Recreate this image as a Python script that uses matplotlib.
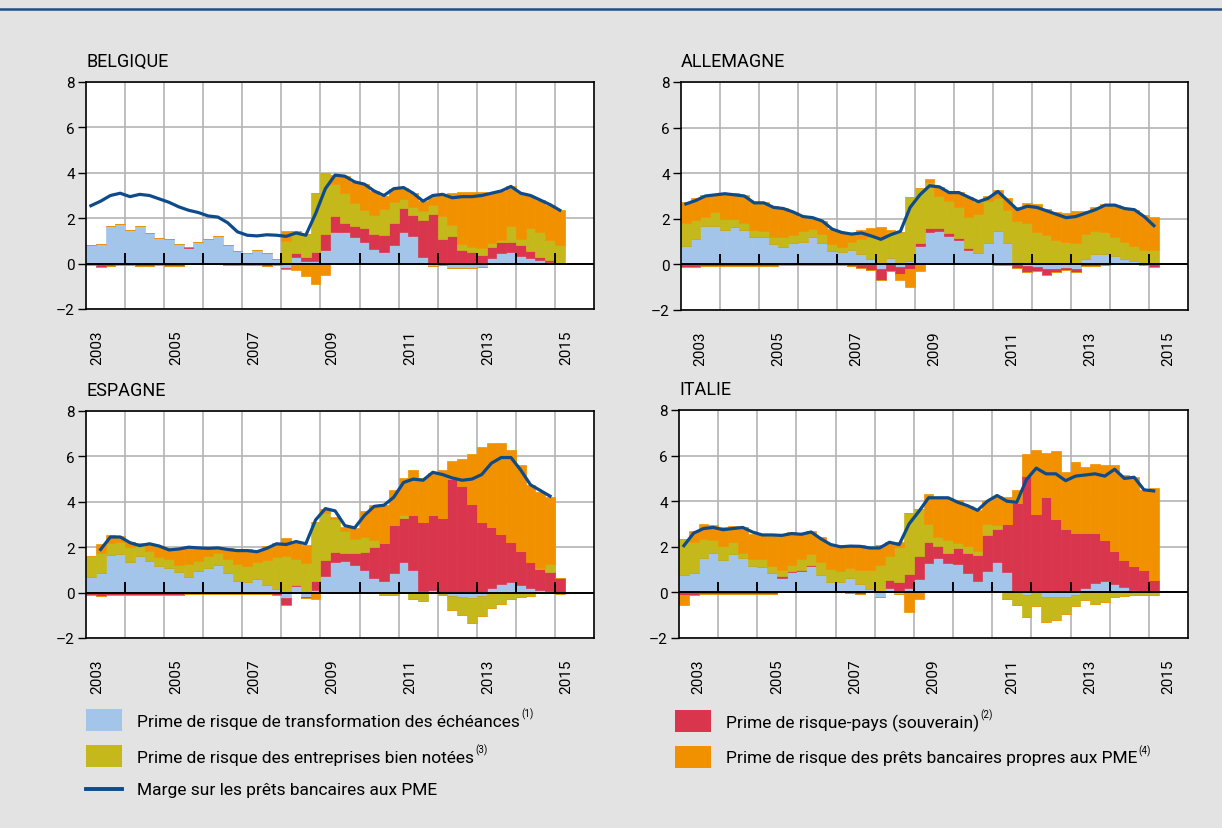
"""
Décomposition de la marge sur les prêts bancaires aux PME (quatre pays), données trimestrielles.
"""
import matplotlib
matplotlib.use("Agg")
import matplotlib.pyplot as plt
import numpy as np
from matplotlib.patches import Rectangle

plt.rcParams['font.family'] = ['Roboto', 'DejaVu Sans']

# premier trimestre 2003 -> premier trimestre 2015
START_YEAR = 2003
N_Q = 49

# ---- BELGIQUE ----
be_mat = [0.80, 0.85, 1.65, 1.75, 1.50, 1.65, 1.35, 1.12, 1.10, 0.85, 0.70, 0.95,
          1.10, 1.20, 0.80, 0.55, 0.45, 0.62, 0.45, 0.20, -0.20, 0.30, 0.10, 0.10,
          0.60, 1.40, 1.40, 1.15, 0.95, 0.65, 0.50, 0.80, 1.40, 1.20, 0.30, -0.10,
          -0.05, -0.20, -0.20, -0.20, -0.15, 0.25, 0.45, 0.50, 0.35, 0.25, 0.15, 0.08,
          0.00]
be_sov = [-0.05, -0.15, -0.10, -0.05, -0.05, -0.10, -0.10, -0.05, -0.10, -0.10, 0.05, -0.02,
          0.00, -0.03, -0.05, -0.05, -0.05, -0.05, -0.10, -0.08, -0.05, 0.15, 0.20, 0.40,
          0.70, 0.70, 0.40, 0.50, 0.60, 0.65, 0.75, 1.00, 1.05, 0.95, 1.60, 2.20,
          1.10, 1.20, 0.60, 0.50, 0.40, 0.50, 0.50, 0.45, 0.45, 0.30, 0.15, 0.10,
          0.02]
be_corp = [0.0] * 20 + [
          1.00, 1.00, 1.00, 2.60, 2.70, 1.40, 1.30, 1.00, 0.80, 0.85, 1.15, 0.90,
          0.40, 0.35, 0.40, 0.40, 1.00, 0.50, 0.25, 0.25, 0.30, 0.15, 0.10, 0.70,
          0.30, 1.00, 1.10, 0.87, 0.78]
be_sme = [0.0] * 20 + [
          0.45, -0.30, -0.55, -0.90, -0.50, 0.40, 0.75, 0.95, 1.15, 1.05, 0.60, 0.60,
          0.50, 0.60, 0.45, 0.40, 0.95, 1.40, 2.30, 2.40, 2.45, 2.20, 2.15, 1.75,
          2.00, 1.45, 1.40, 1.55, 1.55]
be_line = [2.55, 2.75, 3.00, 3.10, 2.95, 3.05, 3.00, 2.85, 2.70, 2.50, 2.35, 2.25,
           2.10, 2.05, 1.80, 1.40, 1.25, 1.22, 1.27, 1.25, 1.20, 1.35, 1.25, 2.20,
           3.30, 3.90, 3.85, 3.60, 3.50, 3.20, 3.00, 3.30, 3.35, 3.10, 2.75, 3.00,
           3.05, 2.90, 2.95, 2.95, 3.00, 3.10, 3.20, 3.40, 3.10, 3.00, 2.80, 2.60,
           2.35]

# ---- ALLEMAGNE ----
de_mat = [0.80, 1.10, 1.70, 1.70, 1.50, 1.65, 1.50, 1.20, 1.20, 0.90, 0.75, 0.95,
          1.00, 1.20, 0.95, 0.60, 0.55, 0.65, 0.45, 0.25, -0.20, 0.30, -0.10, 0.15,
          0.80, 1.40, 1.45, 1.25, 1.05, 0.65, 0.50, 0.95, 1.45, 0.95, 0.10, -0.05,
          -0.10, -0.20, -0.20, -0.15, -0.20, 0.25, 0.45, 0.45, 0.35, 0.25, 0.15, 0.08,
          0.02]
de_sov = [-0.10, -0.10, -0.05, -0.05, -0.05, -0.08, -0.05, -0.05, -0.05, -0.05, -0.03, -0.02,
          -0.02, -0.02, -0.02, -0.02, -0.02, -0.05, -0.15, -0.25, -0.50, -0.30, -0.30, -0.20,
          0.15, 0.20, 0.15, 0.12, 0.12, 0.05, 0.00, 0.00, -0.02, -0.02, -0.15, -0.30,
          -0.20, -0.25, -0.15, -0.10, -0.15, -0.05, -0.05, -0.02, 0.00, 0.00, 0.00, -0.03,
          -0.10]
de_corp = [1.00, 0.85, 0.40, 0.60, 0.50, 0.35, 0.30, 0.30, 0.25, 0.30, 0.45, 0.35,
           0.45, 0.35, 0.40, 0.30, 0.20, 0.35, 0.65, 0.95, 1.20, 1.10, 1.40, 2.80,
           2.40, 2.00, 1.40, 1.40, 1.35, 1.40, 1.70, 1.85, 1.45, 1.45, 1.80, 1.80,
           1.40, 1.30, 1.05, 1.00, 0.95, 1.10, 1.00, 0.95, 0.85, 0.75, 0.65, 0.57,
           0.60]
de_sme = [0.95, 0.95, 0.95, 0.80, 1.15, 1.13, 1.25, 1.25, 1.30, 1.35, 1.27, 1.00,
          0.65, 0.50, 0.55, 0.65, 0.65, 0.38, 0.43, 0.40, 0.45, 0.10, -0.30, -0.80,
          -0.30, 0.15, 0.40, 0.40, 0.65, 0.85, 0.55, 0.20, 0.35, 0.50, 0.60, 0.90,
          1.25, 1.15, 1.25, 1.25, 1.40, 1.00, 1.05, 1.25, 1.40, 1.45, 1.60, 1.50,
          1.45]
de_line = [2.65, 2.80, 3.00, 3.05, 3.10, 3.05, 3.00, 2.70, 2.70, 2.50, 2.45, 2.30,
           2.10, 2.05, 1.90, 1.55, 1.40, 1.33, 1.38, 1.25, 1.10, 1.30, 1.45, 2.50,
           3.05, 3.45, 3.40, 3.15, 3.15, 2.95, 2.75, 2.90, 3.20, 2.80, 2.40, 2.55,
           2.50, 2.35, 2.20, 2.05, 2.10, 2.25, 2.40, 2.60, 2.60, 2.45, 2.40, 2.10,
           1.70]

# ---- ESPAGNE ----
es_mat = [0.70, 0.85, 1.65, 1.70, 1.35, 1.60, 1.40, 1.15, 1.10, 0.90, 0.70, 0.95,
          1.10, 1.20, 0.85, 0.50, 0.45, 0.60, 0.35, 0.15, -0.25, 0.30, -0.20, 0.10,
          0.75, 1.35, 1.40, 1.20, 1.00, 0.65, 0.50, 0.85, 1.35, 1.00, 0.05, 0.10,
          -0.05, -0.15, -0.20, -0.25, -0.15, 0.20, 0.40, 0.45, 0.35, 0.20, 0.10, 0.05,
          0.00]
es_sov = [-0.10, -0.15, -0.10, -0.10, -0.10, -0.10, -0.10, -0.10, -0.10, -0.10, -0.08, -0.05,
          -0.05, -0.08, -0.05, -0.05, -0.05, -0.08, -0.08, -0.10, -0.30, 0.05, -0.05, 0.40,
          0.70, 0.45, 0.35, 0.55, 0.80, 1.35, 1.70, 2.15, 1.95, 2.40, 3.05, 3.30,
          3.30, 5.00, 4.70, 3.90, 3.10, 2.70, 2.20, 1.80, 1.50, 1.15, 0.95, 0.87,
          0.65]
es_corp = [0.90, 0.90, 0.55, 0.55, 0.65, 0.50, 0.45, 0.40, 0.40, 0.30, 0.55, 0.45,
           0.50, 0.55, 0.65, 0.75, 0.70, 0.75, 1.10, 1.40, 1.60, 1.15, 1.30, 2.60,
           2.05, 1.45, 0.95, 0.60, 0.65, 0.30, -0.10, -0.10, 0.10, -0.30, -0.35, 0.00,
           -0.05, -0.60, -0.80, -1.10, -0.90, -0.70, -0.50, -0.30, -0.20, -0.15, 0.05, 0.35,
           -0.05]
es_sme = [0.00, 0.40, 0.35, 0.25, 0.25, 0.10, 0.30, 0.50, 0.45, 0.75, 0.75, 0.60,
          0.40, 0.25, 0.45, 0.65, 0.75, 0.50, 0.60, 0.65, 0.80, 0.75, 0.80, -0.30,
          0.20, 0.10, 0.20, 0.50, 1.15, 1.55, 1.65, 1.50, 1.65, 2.00, 1.95, 1.85,
          2.10, 0.80, 1.20, 2.20, 3.30, 3.70, 4.00, 4.05, 3.75, 3.40, 3.35, 2.95,
          0.00]
es_line = [np.nan, 1.90, 2.45, 2.45, 2.20, 2.07, 2.15, 2.05, 1.88, 1.92, 2.00, 1.97,
           1.95, 1.97, 1.90, 1.85, 1.85, 1.80, 1.95, 2.15, 2.12, 2.25, 2.15, 3.20,
           3.70, 3.60, 2.95, 2.85, 3.40, 3.80, 3.85, 4.20, 4.85, 5.00, 4.95, 5.30,
           5.20, 5.05, 4.95, 5.00, 5.20, 5.70, 5.95, 5.95, 5.40, 4.75, 4.50, 4.25,
           np.nan]

# ---- ITALIE ----
it_mat = [0.75, 0.85, 1.50, 1.75, 1.40, 1.70, 1.50, 1.15, 1.10, 0.85, 0.65, 0.90,
          0.95, 1.15, 0.75, 0.45, 0.45, 0.65, 0.35, 0.15, -0.20, 0.20, -0.05, 0.20,
          0.60, 1.30, 1.50, 1.30, 1.25, 0.85, 0.50, 0.95, 1.35, 0.90, 0.05, -0.10,
          0.05, -0.20, -0.20, -0.20, -0.10, 0.20, 0.40, 0.50, 0.35, 0.25, 0.10, 0.05,
          0.00]
it_sov = [-0.10, -0.10, -0.08, -0.08, -0.05, -0.05, -0.05, -0.05, -0.05, -0.05, 0.05, 0.03,
          0.05, 0.05, 0.03, 0.02, 0.02, -0.03, -0.05, 0.00, 0.00, 0.35, 0.45, 0.60,
          1.00, 0.90, 0.55, 0.45, 0.70, 0.90, 1.15, 1.55, 1.45, 2.10, 3.85, 5.10,
          3.40, 4.20, 3.20, 2.80, 2.60, 2.40, 2.20, 1.80, 1.45, 1.15, 1.05, 0.95,
          0.55]
it_corp = [1.60, 1.35, 0.85, 0.55, 0.65, 0.50, 0.25, 0.30, 0.35, 0.30, 0.30, 0.25,
           0.45, 0.50, 0.55, 0.55, 0.45, 0.40, 0.63, 0.85, 1.20, 1.05, 1.55, 2.70,
           2.05, 0.80, 0.40, 0.55, 0.20, 0.30, 0.15, 0.50, 0.15, -0.30, -0.55, -1.00,
           -0.60, -1.10, -1.00, -0.75, -0.50, -0.35, -0.50, -0.40, -0.20, -0.15, -0.10, -0.10,
           -0.10]
it_sme = [-0.45, 0.50, 0.65, 0.65, 0.80, 0.70, 1.10, 1.10, 1.10, 1.40, 1.50, 1.45,
          1.15, 1.00, 1.10, 1.10, 1.15, 1.05, 1.10, 0.95, 0.90, 0.60, 0.20, -0.85,
          -0.30, 1.30, 1.70, 1.85, 1.90, 1.75, 1.80, 1.00, 1.30, 1.20, 0.60, 0.95,
          2.80, 1.90, 3.00, 2.50, 3.10, 2.90, 3.05, 3.30, 3.80, 3.75, 3.90, 3.50,
          4.05]
it_line = [2.05, 2.60, 2.80, 2.85, 2.75, 2.80, 2.85, 2.65, 2.52, 2.52, 2.50, 2.58,
           2.55, 2.65, 2.35, 2.10, 2.00, 2.03, 2.02, 1.95, 1.95, 2.20, 2.10, 3.00,
           3.55, 4.15, 4.15, 4.15, 3.95, 3.80, 3.60, 4.00, 4.25, 4.00, 3.95, 4.95,
           5.45, 5.20, 5.20, 4.90, 5.10, 5.15, 5.20, 5.10, 5.40, 5.00, 5.05, 4.50,
           4.45]

COUNTRIES = ["BELGIQUE", "ALLEMAGNE", "ESPAGNE", "ITALIE"]
LEGEND_LABELS = ["Prime de risque de transformation des échéances",
                 "Prime de risque-pays (souverain)",
                 "Prime de risque des entreprises bien notées",
                 "Prime de risque des prêts bancaires propres aux PME",
                 "Marge sur les prêts bancaires aux PME"]
YEAR_LABELS = [2003, 2005, 2007, 2009, 2011, 2013, 2015]

C_MAT = "#a3c5e9"
C_SOV = "#d9364e"
C_CORP = "#c4b81b"
C_SME = "#f29100"
C_LINE = "#0d4b8a"
BG = "#e3e3e3"
GRID = "#b4b4b4"

W, H = 1222, 829
fig = plt.figure(figsize=(W / 100, H / 100), dpi=100, facecolor=BG)

# calque en pixels pour le filet du haut et la légende
ov = fig.add_axes([0, 0, 1, 1])
ov.set_xlim(0, W)
ov.set_ylim(H, 0)
ov.axis("off")
ov.plot([0, W], [10, 10], color="#1f4f8c", lw=1.8)


def px_box(left, top, right, bottom):
    return [left / W, 1 - bottom / H, (right - left) / W, (bottom - top) / H]


boxes = [px_box(86, 83, 594, 310), px_box(681, 83, 1188, 311),
         px_box(86, 412, 594, 639), px_box(679, 411, 1188, 639)]
label_shift = [0.3, 0.5, 0.3, 0.5]
panels = [(be_mat, be_sov, be_corp, be_sme, be_line),
          (de_mat, de_sov, de_corp, de_sme, de_line),
          (es_mat, es_sov, es_corp, es_sme, es_line),
          (it_mat, it_sov, it_corp, it_sme, it_line)]

x = START_YEAR + 0.25 * np.arange(N_Q)
years = np.arange(2004, 2016)

for box, name, data, shift in zip(boxes, COUNTRIES, panels, label_shift):
    ax = fig.add_axes(box)
    ax.set_facecolor("white")
    comps = data[:4]
    line = np.array(data[4], dtype=float)
    pos = np.zeros(N_Q)
    neg = np.zeros(N_Q)
    # empilement : positifs vers le haut, négatifs vers le bas
    for vals, col in zip(comps, [C_MAT, C_SOV, C_CORP, C_SME]):
        v = np.array(vals, dtype=float)
        p = np.clip(v, 0, None)
        q = np.clip(v, None, 0)
        ax.bar(x, p, 0.25, bottom=pos, align="edge", color=col,
               edgecolor=col, lw=0.5, zorder=2)
        ax.bar(x, q, 0.25, bottom=neg, align="edge", color=col,
               edgecolor=col, lw=0.5, zorder=2)
        pos += p
        neg += q

    ax.axhline(0, color="black", lw=1.4, zorder=3)
    ax.vlines(years, 0, 0.47, color="black", lw=1.4, zorder=3)
    ax.plot(x + 0.125, line, color=C_LINE, lw=2.3, zorder=4,
            solid_joinstyle="round")

    ax.set_xlim(2003, 2016)
    ax.set_ylim(-2, 8)
    ax.set_yticks([-2, 0, 2, 4, 6, 8])
    ax.set_yticklabels(["\u20132", "0", "2", "4", "6", "8"], fontsize=11)
    ax.set_xticks(years)
    ax.set_xticklabels([])
    ax.set_xticks([y + shift for y in YEAR_LABELS], minor=True)
    ax.set_xticklabels([str(y) for y in YEAR_LABELS], minor=True,
                       rotation=90, fontsize=11)
    ax.tick_params(axis="x", which="both", length=0)
    ax.tick_params(axis="x", which="minor", pad=15)
    ax.tick_params(axis="y", length=6, width=1, direction="out", pad=2,
                   colors="black")
    ax.set_axisbelow(True)
    ax.grid(axis="x", which="major", color=GRID, lw=1.2)
    ax.grid(axis="y", which="major", color=GRID, lw=1.2)
    for sp in ax.spines.values():
        sp.set_color("black")
        sp.set_linewidth(1.2)
    ax.text(0, 1.07, name, transform=ax.transAxes, fontsize=13,
            ha="left", va="baseline")

# légende
renderer = fig.canvas.get_renderer()
patch_items = [(86, 710, C_MAT, LEGEND_LABELS[0], "(1)"),
               (675, 711, C_SOV, LEGEND_LABELS[1], "(2)"),
               (86, 746, C_CORP, LEGEND_LABELS[2], "(3)"),
               (675, 747, C_SME, LEGEND_LABELS[3], "(4)")]
for px, py, col, lab, sup in patch_items:
    ov.add_patch(Rectangle((px, py), 36, 22, color=col, lw=0))
    t = ov.text(px + 51, py + 12, lab, fontsize=12.5, va="center", ha="left")
    bb = t.get_window_extent(renderer)
    ov.text(bb.x1 + 1, py + 4, sup, fontsize=7, va="center", ha="left")

ov.plot([86, 122], [790, 790], color=C_LINE, lw=2.8)
ov.text(137, 791, LEGEND_LABELS[4], fontsize=12.5, va="center", ha="left")

fig.savefig("out.png", dpi=100, facecolor=BG)
